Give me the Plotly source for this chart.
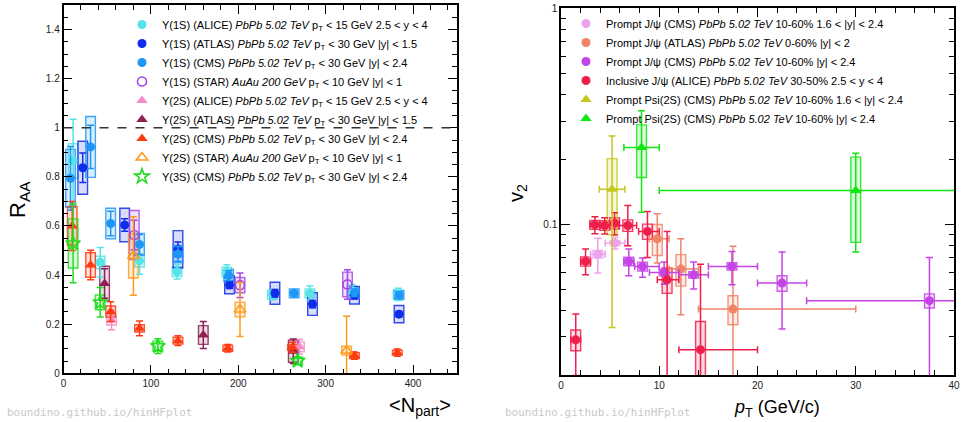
import math
import plotly.graph_objects as go

# ---------------- Left panel: R_AA vs <Npart> ----------------
npart_y1s_alice = [11, 42, 87, 130, 187, 239, 282, 330, 383]
raa_y1s_alice = [0.865, 0.452, 0.458, 0.414, 0.412, 0.320, 0.326, 0.337, 0.321]
stat_y1s_alice = [0.17, 0.06, 0.055, 0.03, 0.03, 0.02, 0.03, 0.025, 0.025]
sys_y1s_alice = [0.07, 0.025, 0.025, 0.02, 0.02, 0.018, 0.018, 0.018, 0.018]

npart_y1s_atlas = [22, 70, 131, 190, 242, 285, 333, 384]
raa_y1s_atlas = [0.837, 0.604, 0.505, 0.360, 0.326, 0.282, 0.318, 0.241]
stat_y1s_atlas = [0.06, 0.025, 0.03, 0.015, 0.015, 0.015, 0.015, 0.012]
sys_y1s_atlas = [0.108, 0.068, 0.076, 0.036, 0.045, 0.046, 0.036, 0.035]

npart_y1s_cms = [8, 31, 54, 87, 131, 189, 264, 333, 384]
raa_y1s_cms = [0.794, 0.922, 0.610, 0.525, 0.486, 0.398, 0.326, 0.328, 0.318]
stat_y1s_cms = [0.13, 0.088, 0.05, 0.04, 0.03, 0.02, 0.012, 0.015, 0.012]
sys_y1s_cms = [0.118, 0.124, 0.062, 0.045, 0.035, 0.025, 0.018, 0.02, 0.018]

npart_y1s_star = [81, 202, 325]
raa_y1s_star = [0.563, 0.359, 0.362]
stat_y1s_star = [0.06, 0.05, 0.06]
sys_y1s_star = [0.10, 0.031, 0.05]

npart_y2s_alice = [55, 270]
raa_y2s_alice = [0.217, 0.108]
stat_y2s_alice = [0.04, 0.03]
sys_y2s_alice = [0.02, 0.02]

npart_y2s_atlas = [47, 160, 263]
raa_y2s_atlas = [0.366, 0.156, 0.09]
stat_y2s_atlas = [0.06, 0.055, 0.05]
sys_y2s_atlas = [0.07, 0.038, 0.045]

npart_y2s_cms = [10, 31, 54, 87, 131, 188, 262, 333, 382]
raa_y2s_cms = [0.600, 0.441, 0.251, 0.183, 0.133, 0.102, 0.106, 0.072, 0.084]
stat_y2s_cms = [0.10, 0.06, 0.04, 0.03, 0.02, 0.015, 0.02, 0.015, 0.015]
sys_y2s_cms = [0.08, 0.05, 0.023, 0.015, 0.014, 0.012, 0.012, 0.012, 0.01]

npart_y2s_star = [80, 202, 324]
raa_y2s_star = [0.478, 0.260, 0.092]
stat_y2s_star = [0.16, 0.11, 0.14]
sys_y2s_star = [0.09, 0.03, 0.018]

npart_y3s_cms = [11, 42, 108, 268]
raa_y3s_cms = [0.529, 0.289, 0.111, 0.051]
stat_y3s_cms = [0.16, 0.06, 0.03, 0.015]
sys_y3s_cms = [0.10, 0.03, 0.02, 0.015]

# ---------------- Right panel: v2 vs pT ----------------
pt_jpsi_cms_fwd = [3.75, 5.5]
v2_jpsi_cms_fwd = [0.0726, 0.0817]
eyu_jpsi_cms_fwd = [0.0135, 0.005]
eyd_jpsi_cms_fwd = [0.0133, 0.005]
exl_jpsi_cms_fwd = [0.75, 1.0]
exh_jpsi_cms_fwd = [0.75, 1.0]
sys_jpsi_cms_fwd = [0.003, 0.002]

pt_jpsi_atlas = [9.8, 12.2, 17.5]
v2_jpsi_atlas = [0.0856, 0.0619, 0.0404]
eyu_jpsi_atlas = [0.026, 0.0236, 0.0385]
eyd_jpsi_atlas = [0.0196, 0.0239, 0.04]
exl_jpsi_atlas = [0.8, 1.2, 3.5]
exh_jpsi_atlas = [1.2, 1.8, 12.5]
sys_jpsi_atlas = [0.014, 0.0103, 0.0062]

pt_jpsi_cms = [6.9, 8.3, 10.5, 13.5, 17.4, 22.5, 37.5]
v2_jpsi_cms = [0.0672, 0.0637, 0.0597, 0.0582, 0.0637, 0.0533, 0.0442]
eyu_jpsi_cms = [0.0095, 0.006, 0.007, 0.0085, 0.011, 0.021, 0.0258]
eyd_jpsi_cms = [0.0095, 0.007, 0.007, 0.0082, 0.0113, 0.0206, 0.05]
exl_jpsi_cms = [0.5, 0.8, 1.5, 1.5, 2.4, 2.5, 12.5]
exh_jpsi_cms = [0.5, 1.7, 1.5, 1.5, 2.6, 2.5, 12.5]
sys_jpsi_cms = [0.003, 0.003, 0.002, 0.002, 0.0025, 0.0044, 0.0033]

pt_jpsi_alice = [1.5, 2.5, 3.45, 4.45, 5.45, 6.8, 8.8, 10.8, 14.2]
v2_jpsi_alice = [0.0291, 0.0672, 0.0993, 0.0986, 0.101, 0.0986, 0.0925, 0.0552, 0.0262]
eyu_jpsi_alice = [0.0092, 0.0094, 0.009, 0.0085, 0.012, 0.0234, 0.022, 0.0373, 0.039]
eyd_jpsi_alice = [0.0092, 0.0089, 0.009, 0.0085, 0.012, 0.0192, 0.0224, 0.0373, 0.039]
exl_jpsi_alice = [0.5, 0.5, 0.5, 0.5, 0.5, 0.9, 0.9, 1.0, 2.2]
exh_jpsi_alice = [0.5, 0.5, 0.5, 0.5, 0.5, 0.9, 1.2, 1.2, 5.8]
sys_jpsi_alice = [0.0032, 0.0033, 0.0047, 0.005, 0.006, 0.006, 0.0075, 0.0074, 0.0092]

pt_psi2s_cms_fwd = [5.2]
v2_psi2s_cms_fwd = [0.1452]
eyu_psi2s_cms_fwd = [0.111]
eyd_psi2s_cms_fwd = [0.112]
exl_psi2s_cms_fwd = [1.3]
exh_psi2s_cms_fwd = [1.3]
sys_psi2s_cms_fwd = [0.056]

pt_psi2s_cms = [8.2, 30.0]
v2_psi2s_cms = [0.2264, 0.1433]
eyu_psi2s_cms = [0.109, 0.070]
eyd_psi2s_cms = [0.113, 0.069]
exl_psi2s_cms = [1.8, 20.0]
exh_psi2s_cms = [1.8, 20.0]
sys_psi2s_cms = [0.062, 0.061]

BOX_W_LEFT = 11
BOX_W_RIGHT = 1.0

FONT = "Liberation Sans, Arial, Helvetica, sans-serif"


def rgba(hexc, a):
    h = hexc.lstrip('#')
    r, g, b = int(h[0:2], 16), int(h[2:4], 16), int(h[4:6], 16)
    return f"rgba({r},{g},{b},{a})"


fig = go.Figure()


def add_series(x, y, eup, edn, sysv, color, symbol, size, name, panel,
               exl=None, exh=None, boxw=1.0):
    xa, ya = ("x", "y") if panel == 1 else ("x2", "y2")
    fig.add_trace(go.Bar(
        x=x, y=[2 * s for s in sysv], base=[v - s for v, s in zip(y, sysv)],
        width=[boxw] * len(x),
        marker=dict(color=rgba(color, 0.16), line=dict(color=rgba(color, 0.85), width=1.4)),
        xaxis=xa, yaxis=ya, showlegend=False, hoverinfo="skip"))
    open_sym = symbol.endswith("-open")
    sc = dict(
        x=x, y=y, mode="markers", name=name,
        marker=dict(symbol=symbol, size=size, color=color,
                    line=dict(color=color, width=1.6 if open_sym else 0)),
        error_y=dict(type="data", array=eup, arrayminus=edn, symmetric=False,
                     color=color, thickness=1.5, width=3.5),
        xaxis=xa, yaxis=ya, legend="legend" if panel == 1 else "legend2")
    if exl is not None:
        sc["error_x"] = dict(type="data", array=exh, arrayminus=exl, symmetric=False,
                             color=color, thickness=1.5, width=3.5)
    fig.add_trace(go.Scatter(**sc))


PB = "<i>PbPb 5.02 TeV</i>"
AU = "<i>AuAu 200 GeV</i>"
PT = "p<sub>T</sub>"

add_series(npart_y1s_alice, raa_y1s_alice, stat_y1s_alice, stat_y1s_alice, sys_y1s_alice,
           "#55e3e6", "circle", 9, f"Υ(1S) (ALICE) {PB} {PT} &lt; 15 GeV 2.5 &lt; y &lt; 4", 1, boxw=BOX_W_LEFT)
add_series(npart_y1s_atlas, raa_y1s_atlas, stat_y1s_atlas, stat_y1s_atlas, sys_y1s_atlas,
           "#0f2de8", "circle", 9, f"Υ(1S) (ATLAS) {PB} {PT} &lt; 30 GeV |y| &lt; 1.5", 1, boxw=BOX_W_LEFT)
add_series(npart_y1s_cms, raa_y1s_cms, stat_y1s_cms, stat_y1s_cms, sys_y1s_cms,
           "#1e96f5", "circle", 9, f"Υ(1S) (CMS) {PB} {PT} &lt; 30 GeV |y| &lt; 2.4", 1, boxw=BOX_W_LEFT)
add_series(npart_y1s_star, raa_y1s_star, stat_y1s_star, stat_y1s_star, sys_y1s_star,
           "#a446e6", "circle-open", 9, f"Υ(1S) (STAR) {AU} {PT} &lt; 10 GeV |y| &lt; 1", 1, boxw=BOX_W_LEFT)
add_series(npart_y2s_alice, raa_y2s_alice, stat_y2s_alice, stat_y2s_alice, sys_y2s_alice,
           "#f78bc8", "triangle-up", 10, f"Υ(2S) (ALICE) {PB} {PT} &lt; 15 GeV 2.5 &lt; y &lt; 4", 1, boxw=BOX_W_LEFT)
add_series(npart_y2s_atlas, raa_y2s_atlas, stat_y2s_atlas, stat_y2s_atlas, sys_y2s_atlas,
           "#8e1f55", "triangle-up", 10, f"Υ(2S) (ATLAS) {PB} {PT} &lt; 30 GeV |y| &lt; 1.5", 1, boxw=BOX_W_LEFT)
add_series(npart_y2s_cms, raa_y2s_cms, stat_y2s_cms, stat_y2s_cms, sys_y2s_cms,
           "#ff3a10", "triangle-up", 10, f"Υ(2S) (CMS) {PB} {PT} &lt; 30 GeV |y| &lt; 2.4", 1, boxw=BOX_W_LEFT)
add_series(npart_y2s_star, raa_y2s_star, stat_y2s_star, stat_y2s_star, sys_y2s_star,
           "#ff9a1a", "triangle-up-open", 10, f"Υ(2S) (STAR) {AU} {PT} &lt; 10 GeV |y| &lt; 1", 1, boxw=BOX_W_LEFT)
add_series(npart_y3s_cms, raa_y3s_cms, stat_y3s_cms, stat_y3s_cms, sys_y3s_cms,
           "#22dd22", "star-open", 11, f"Υ(3S) (CMS) {PB} {PT} &lt; 30 GeV |y| &lt; 2.4", 1, boxw=BOX_W_LEFT)

add_series(pt_jpsi_cms_fwd, v2_jpsi_cms_fwd, eyu_jpsi_cms_fwd, eyd_jpsi_cms_fwd, sys_jpsi_cms_fwd,
           "#eea2ee", "circle", 9, f"Prompt J/ψ (CMS) {PB} 10-60% 1.6 &lt; |y| &lt; 2.4", 2,
           exl_jpsi_cms_fwd, exh_jpsi_cms_fwd, BOX_W_RIGHT)
add_series(pt_jpsi_atlas, v2_jpsi_atlas, eyu_jpsi_atlas, eyd_jpsi_atlas, sys_jpsi_atlas,
           "#ef8466", "circle", 9, f"Prompt J/ψ (ATLAS) {PB} 0-60% |y| &lt; 2", 2,
           exl_jpsi_atlas, exh_jpsi_atlas, BOX_W_RIGHT)
add_series(pt_jpsi_cms, v2_jpsi_cms, eyu_jpsi_cms, eyd_jpsi_cms, sys_jpsi_cms,
           "#c544e6", "circle", 9, f"Prompt J/ψ (CMS) {PB} 10-60% |y| &lt; 2.4", 2,
           exl_jpsi_cms, exh_jpsi_cms, BOX_W_RIGHT)
add_series(pt_jpsi_alice, v2_jpsi_alice, eyu_jpsi_alice, eyd_jpsi_alice, sys_jpsi_alice,
           "#f01e4b", "circle", 9, f"Inclusive J/ψ (ALICE) {PB} 30-50% 2.5 &lt; y &lt; 4", 2,
           exl_jpsi_alice, exh_jpsi_alice, BOX_W_RIGHT)
add_series(pt_psi2s_cms_fwd, v2_psi2s_cms_fwd, eyu_psi2s_cms_fwd, eyd_psi2s_cms_fwd, sys_psi2s_cms_fwd,
           "#c6c61e", "triangle-up", 10, f"Prompt Psi(2S) (CMS) {PB} 10-60% 1.6 &lt; |y| &lt; 2.4", 2,
           exl_psi2s_cms_fwd, exh_psi2s_cms_fwd, BOX_W_RIGHT)
add_series(pt_psi2s_cms, v2_psi2s_cms, eyu_psi2s_cms, eyd_psi2s_cms, sys_psi2s_cms,
           "#10e610", "triangle-up", 10, f"Prompt Psi(2S) (CMS) {PB} 10-60% |y| &lt; 2.4", 2,
           exl_psi2s_cms, exh_psi2s_cms, BOX_W_RIGHT)

axis_common = dict(
    showline=True, linecolor="black", linewidth=1.5, mirror="allticks",
    ticks="inside", ticklen=9, tickwidth=1.2, tickcolor="black",
    showgrid=False, zeroline=False, automargin=False,
    tickfont=dict(family=FONT, size=10, color="#222"),
)

W, H = 962, 422
fig.update_layout(
    width=W, height=H, margin=dict(l=0, r=0, t=0, b=0, autoexpand=False),
    paper_bgcolor="white", plot_bgcolor="white",
    barmode="overlay", showlegend=True,
    font=dict(family=FONT, color="black"),
    xaxis=dict(domain=[63.5 / W, 456.7 / W], range=[0, 450], dtick=100, tick0=0,
               minor=dict(dtick=20, ticks="inside", ticklen=5, tickwidth=1, tickcolor="black"),
               anchor="y", **axis_common),
    yaxis=dict(domain=[(H - 373.3) / H, (H - 5) / H], range=[0, 1.5], dtick=0.2, tick0=0,
               minor=dict(dtick=0.05, ticks="inside", ticklen=5, tickwidth=1, tickcolor="black"),
               anchor="x", **axis_common),
    xaxis2=dict(domain=[561 / W, 954 / W], range=[0, 40], dtick=10, tick0=0,
                minor=dict(dtick=2, ticks="inside", ticklen=5, tickwidth=1, tickcolor="black"),
                anchor="y2", **axis_common),
    yaxis2=dict(domain=[(H - 375) / H, (H - 8.3) / H], type="log",
                range=[math.log10(0.02), 0],
                tickmode="array", tickvals=[0.1, 1], ticktext=["0.1", "1"],
                minor=dict(tickmode="array",
                           tickvals=[0.02, 0.03, 0.04, 0.05, 0.06, 0.07, 0.08, 0.09,
                                     0.2, 0.3, 0.4, 0.5, 0.6, 0.7, 0.8, 0.9],
                           ticks="inside", ticklen=5, tickwidth=1, tickcolor="black"),
                anchor="x2", **axis_common),
    legend=dict(x=122 / W, y=(H - 10) / H, xanchor="left", yanchor="top",
                bgcolor="rgba(0,0,0,0)", borderwidth=0, traceorder="normal",
                font=dict(family=FONT, size=11, color="black"), itemwidth=30),
    legend2=dict(x=566 / W, y=(H - 9) / H, xanchor="left", yanchor="top",
                 bgcolor="rgba(0,0,0,0)", borderwidth=0, traceorder="normal",
                 font=dict(family=FONT, size=11, color="black"), itemwidth=30),
)

# reference line at R_AA = 1
fig.add_shape(type="line", xref="x domain", yref="y", x0=0, x1=1, y0=1, y1=1,
              line=dict(color="#333", width=1.3, dash="dash"))

ann = [
    dict(text="R<sub>AA</sub>", x=19 / W, y=(H - 200) / H, textangle=-90, font=dict(size=22)),
    dict(text="&lt;N<sub>part</sub>&gt;", x=420 / W, y=(H - 406) / H, font=dict(size=20)),
    dict(text="v<sub>2</sub>", x=517 / W, y=(H - 193) / H, textangle=-90, font=dict(size=20)),
    dict(text="<i>p</i><sub>T</sub> (GeV/c)", x=777 / W, y=(H - 408) / H, font=dict(size=18)),
]
for a in ann:
    fig.add_annotation(xref="paper", yref="paper", showarrow=False,
                       xanchor="center", yanchor="middle",
                       font=dict(family=FONT, color="black", size=a["font"]["size"]),
                       text=a["text"], x=a["x"], y=a["y"], textangle=a.get("textangle", 0))

for xw in (5, 503):
    fig.add_annotation(xref="paper", yref="paper", showarrow=False, xanchor="left", yanchor="middle",
                       x=xw / W, y=(H - 412) / H, text="boundino.github.io/hinHFplot",
                       font=dict(family="DejaVu Sans Mono, monospace", size=11, color="#c8c8c8"))

fig.write_html("out.html",
               config={"displayModeBar": False},
               post_script="document.body.style.margin='0';document.body.style.padding='0';"
                           "document.documentElement.style.overflow='hidden';")
